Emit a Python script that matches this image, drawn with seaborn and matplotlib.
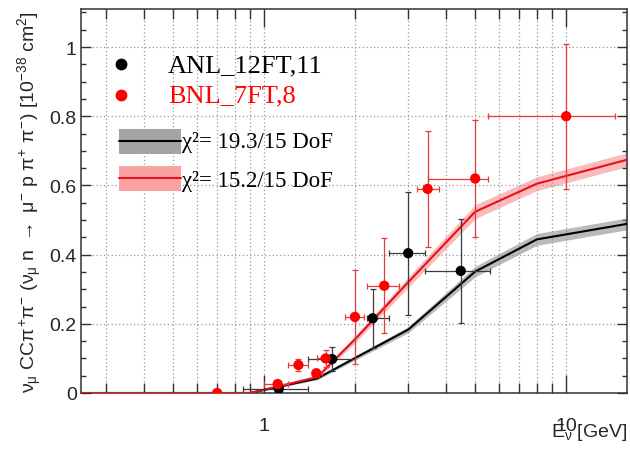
import numpy as np
import matplotlib
matplotlib.use("Agg")
import matplotlib.pyplot as plt
import matplotlib.ticker as mticker
from matplotlib.patches import Rectangle
import seaborn as sns

# ---------------- data ----------------
anl_x = [1.12, 1.68, 2.29, 3.0, 4.48]
anl_y = [0.012, 0.098, 0.216, 0.404, 0.353]
anl_xlo = [0.85, 1.4, 2.2, 2.6, 3.4]
anl_xhi = [1.4, 2.0, 2.6, 3.4, 5.6]
anl_yerr = [0.006, 0.034, 0.085, 0.178, 0.15]

bnl_x = [0.70, 1.11, 1.30, 1.49, 1.60, 2.0, 2.5, 3.48, 5.0, 10.0]
bnl_y = [0.0, 0.026, 0.081, 0.057, 0.10, 0.22, 0.31, 0.59, 0.62, 0.80]
bnl_xlo = [0.70, 1.0, 1.2, 1.44, 1.5, 1.86, 2.2, 3.2, 3.5, 5.5]
bnl_xhi = [0.70, 1.2, 1.4, 1.56, 1.7, 2.14, 2.8, 3.8, 5.5, 14.5]
bnl_yerr = [0.0, 0.008, 0.016, 0.012, 0.025, 0.135, 0.137, 0.167, 0.168, 0.21]

model_x = [0.248, 0.9, 1.5, 2.0, 3.0, 5.0, 8.0, 15.7, 15.9]
anl_model = [0.0, 0.0, 0.042, 0.101, 0.183, 0.351, 0.444, 0.488, 0.490]
anl_band_lo = [0.0, 0.0, 0.038, 0.095, 0.174, 0.336, 0.427, 0.471, 0.473]
anl_band_hi = [0.0, 0.0, 0.046, 0.107, 0.192, 0.366, 0.461, 0.505, 0.540]
bnl_model = [0.0, 0.0, 0.046, 0.155, 0.32, 0.524, 0.605, 0.673, 0.675]
bnl_band_lo = [0.0, 0.0, 0.041, 0.145, 0.305, 0.504, 0.585, 0.653, 0.655]
bnl_band_hi = [0.0, 0.0, 0.051, 0.165, 0.335, 0.544, 0.625, 0.693, 0.730]

legend_labels = ["ANL_12FT,11", "BNL_7FT,8"]
chi2_labels = ["χ²= 19.3/15 DoF", "χ²= 15.2/15 DoF"]

# ---------------- style ----------------
sns.set_theme(style="white")
plt.rcParams["font.family"] = ["Liberation Sans", "DejaVu Sans"]
plt.rcParams["mathtext.fontset"] = "custom"
plt.rcParams["mathtext.rm"] = "Liberation Sans"
plt.rcParams["mathtext.it"] = "Liberation Sans"
plt.rcParams["mathtext.bf"] = "Liberation Sans:bold"

fig = plt.figure(figsize=(6.3, 4.52), dpi=100)
ax = fig.add_axes([81 / 630, 1 - 394 / 452, 546 / 630, 384 / 452])
ax.set_xscale("log")
ax.set_xlim(0.248, 15.9)
ax.set_ylim(0, 1.11)

# grid
ax.set_axisbelow(True)
ax.xaxis.grid(True, which="both", linestyle=(0, (1, 2)), color="#999999", linewidth=0.9)
ax.yaxis.grid(True, which="major", linestyle=(0, (1, 2)), color="#999999", linewidth=0.9)

# bands
ax.fill_between(model_x, anl_band_lo, anl_band_hi, color="#8c8c8c", alpha=0.6, linewidth=0, zorder=2)
ax.fill_between(model_x, bnl_band_lo, bnl_band_hi, color="#f36a6a", alpha=0.45, linewidth=0, zorder=2)

# model lines
sns.lineplot(x=model_x, y=anl_model, ax=ax, color="black", linewidth=1.5, sort=False, zorder=3)
sns.lineplot(x=model_x, y=bnl_model, ax=ax, color="#e8101a", linewidth=1.5, sort=False, zorder=3)

# error bars
anl_xerr = [np.array(anl_x) - np.array(anl_xlo), np.array(anl_xhi) - np.array(anl_x)]
bnl_xerr = [np.array(bnl_x) - np.array(bnl_xlo), np.array(bnl_xhi) - np.array(bnl_x)]
ax.errorbar(anl_x, anl_y, xerr=anl_xerr, yerr=anl_yerr, fmt="none", ecolor="#3a3a3a",
            elinewidth=0.9, capsize=2.5, capthick=0.9, zorder=4)
ax.errorbar(bnl_x, bnl_y, xerr=bnl_xerr, yerr=bnl_yerr, fmt="none", ecolor="#e83a3a",
            elinewidth=0.9, capsize=2.5, capthick=0.9, zorder=4)

# points
sns.scatterplot(x=anl_x, y=anl_y, ax=ax, color="black", s=55, edgecolor="none", zorder=5)
sns.scatterplot(x=bnl_x, y=bnl_y, ax=ax, color="#ff0000", s=55, edgecolor="none", zorder=5)

# ticks
ax.xaxis.set_major_locator(mticker.LogLocator(base=10, numticks=10))
ax.xaxis.set_minor_locator(mticker.LogLocator(base=10, subs=np.arange(2, 10), numticks=20))
ax.xaxis.set_major_formatter(mticker.FuncFormatter(lambda v, p: f"{v:g}"))
ax.xaxis.set_minor_formatter(mticker.NullFormatter())
ax.yaxis.set_major_locator(mticker.MultipleLocator(0.2))
ax.yaxis.set_minor_locator(mticker.MultipleLocator(0.05))
ax.yaxis.set_major_formatter(mticker.FuncFormatter(lambda v, p: f"{v:g}"))
ax.tick_params(axis="x", which="major", direction="in", length=13, width=1.0, top=True,
               bottom=True, labelsize=14, pad=17, color="#333333")
ax.tick_params(axis="x", which="minor", direction="in", length=7, width=1.0, top=True,
               bottom=True, color="#333333")
ax.tick_params(axis="y", which="major", direction="in", length=7, width=1.0, left=True,
               right=True, labelsize=14, pad=3, color="#333333")
ax.tick_params(axis="y", which="minor", direction="in", length=3.6, width=1.0, left=True,
               right=True, color="#333333")
for s in ax.spines.values():
    s.set_color("#333333")
    s.set_linewidth(1.1)

ax.set_ylabel(r"$\nu_{\mu}$ CC$\pi^{+}\pi^{-}$ ($\nu_{\mu}$ n $\rightarrow$ $\mu^{-}$ p $\pi^{+}$ $\pi^{-}$) [10$^{-38}$ cm$^{2}$]",
              fontsize=14)
ax.yaxis.set_label_coords(-0.068, 0.5)
ax.set_xlabel(r"E$_{\nu}$ [GeV]", fontsize=14, loc="right")
ax.xaxis.set_label_coords(1.0, -0.074)

# legend (drawn manually)
tr = ax.transAxes
ax.plot([0.0733], [0.8568], marker="o", color="black", markersize=7.5, transform=tr, zorder=6)
ax.plot([0.0733], [0.776], marker="o", color="#ff0000", markersize=7.5, transform=tr, zorder=6)
ax.text(0.1593, 0.8385, legend_labels[0], transform=tr, fontsize=19, color="black",
        family=["Liberation Serif"], va="baseline", ha="left")
ax.text(0.1593, 0.758, legend_labels[1], transform=tr, fontsize=19, color="#ff0000",
        family=["Liberation Serif"], va="baseline", ha="left")
ax.add_patch(Rectangle((0.0696, 0.6216), 0.1134, 0.0659, transform=tr, facecolor="#a4a4a4",
                       edgecolor="none", zorder=6))
ax.plot([0.0696, 0.183], [0.6555, 0.6555], color="black", linewidth=1.5, transform=tr, zorder=7)
ax.add_patch(Rectangle((0.0696, 0.5268), 0.1134, 0.0651, transform=tr, facecolor="#f8a2a2",
                       edgecolor="none", zorder=6))
ax.plot([0.0696, 0.183], [0.559, 0.559], color="#e8101a", linewidth=1.5, transform=tr, zorder=7)
ax.text(0.185, 0.640, chi2_labels[0], transform=tr, fontsize=16.5, color="black",
        family=["Liberation Serif"], va="baseline", ha="left")
ax.text(0.185, 0.540, chi2_labels[1], transform=tr, fontsize=16.5, color="black",
        family=["Liberation Serif"], va="baseline", ha="left")

fig.savefig("out.png", dpi=100)
